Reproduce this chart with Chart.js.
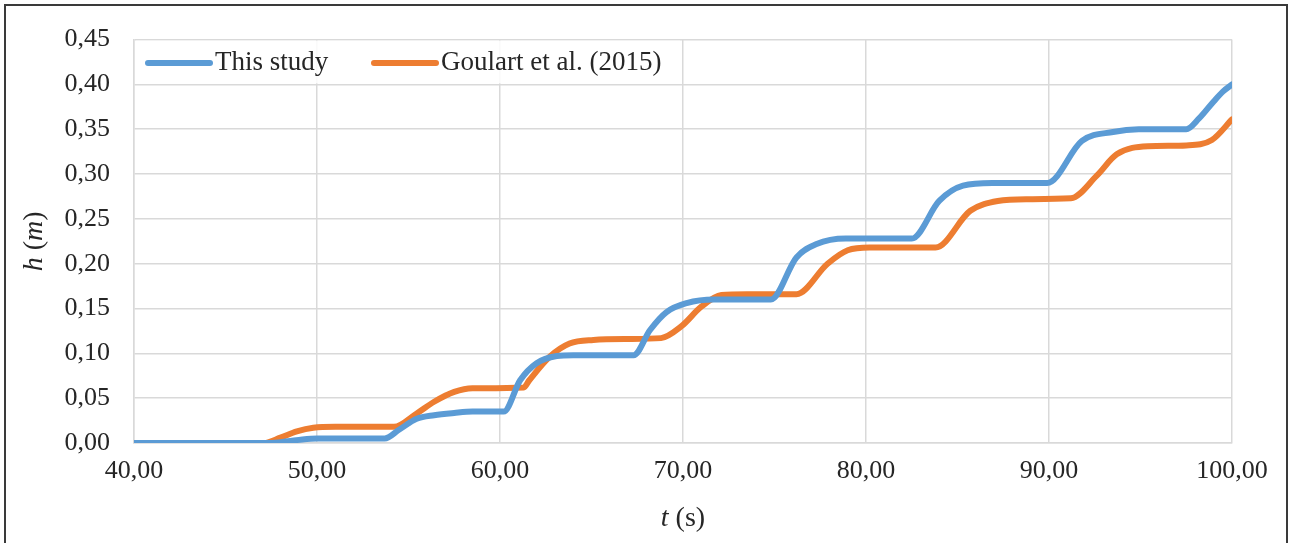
<!DOCTYPE html>
<html>
<head>
<meta charset="utf-8">
<script src="https://cdn.jsdelivr.net/npm/chart.js@4"></script>
<style>
  html, body { margin: 0; padding: 0; background: #fff; }
  #wrap { width: 1290px; height: 543px; position: relative; }
</style>
</head>
<body>
<div id="wrap"><canvas id="chart"></canvas></div>
<script>
// series (t in s, h in m)
const seriesNames = ['This study', 'Goulart et al. (2015)'];
const studyT = [40, 47.4, 48.4, 49.2, 50, 53.7, 54.5, 55.45, 56.4, 57.5, 58.5, 60.2, 61.1, 62, 63.1, 64, 67.3, 68.2, 69.1, 70.2, 71.7, 73, 74.8, 76.2, 77.3, 78.9, 80, 82.5, 84, 85.3, 86.9, 88, 89.9, 91.8, 93.5, 94.9, 96, 97.5, 98.2, 99, 99.5, 100];
const studyH = [0, 0, 0.002, 0.004, 0.005, 0.005, 0.015, 0.027, 0.031, 0.0335, 0.035, 0.035, 0.07, 0.089, 0.097, 0.098, 0.098, 0.126, 0.146, 0.156, 0.16, 0.16, 0.16, 0.207, 0.222, 0.228, 0.228, 0.228, 0.27, 0.287, 0.29, 0.29, 0.29, 0.337, 0.347, 0.35, 0.35, 0.35, 0.362, 0.381, 0.392, 0.4];
const goulartT = [40, 47.1, 48, 48.9, 49.8, 51, 54.2, 55.45, 56.4, 57.5, 58.5, 61.3, 61.6, 62.7, 63.8, 65.1, 67, 68.8, 69.9, 71, 72.1, 73.5, 76.2, 77.9, 79, 80.2, 82, 83.8, 85.7, 87.2, 88.8, 91.2, 92.6, 93.7, 95.4, 97.5, 98.9, 100];
const goulartH = [0, 0, 0.006, 0.013, 0.017, 0.018, 0.018, 0.033, 0.046, 0.057, 0.061, 0.062, 0.07, 0.096, 0.111, 0.115, 0.116, 0.117, 0.13, 0.152, 0.165, 0.166, 0.166, 0.2, 0.215, 0.218, 0.218, 0.218, 0.259, 0.27, 0.272, 0.273, 0.298, 0.322, 0.331, 0.332, 0.338, 0.361];
const xTicks = [40, 50, 60, 70, 80, 90, 100];
const yTicks = [0, 0.05, 0.1, 0.15, 0.2, 0.25, 0.3, 0.35, 0.4, 0.45];

const colors = ['#5b9bd5', '#ed7d31'];
const serif = '"Liberation Serif", "Times New Roman", serif';
const comma = v => v.toFixed(2).replace('.', ',');

function toPoints(ts, hs) {
  return ts.map((t, i) => ({ x: t, y: hs[i] }));
}

// page frame, legend box and axis titles
const extras = {
  id: 'extras',
  beforeDraw(chart) {
    const c = chart.ctx;
    c.save();
    c.fillStyle = '#fff';
    c.fillRect(0, 0, chart.width, chart.height);
    c.restore();
  },
  beforeDatasetsDraw(chart) {
    const c = chart.ctx;
    const a = chart.chartArea;
    const y40 = chart.scales.y.getPixelForValue(0.4);
    c.save();
    c.fillStyle = 'rgba(255,255,255,0.85)';
    c.fillRect(a.left + 2, a.top + 1, 544, y40 - a.top - 2);
    c.restore();
  },
  afterDraw(chart) {
    const c = chart.ctx;
    const a = chart.chartArea;
    c.save();
    // outer frame
    c.strokeStyle = '#3a3a3a';
    c.lineWidth = 2;
    c.strokeRect(5, 5, 1282, 560);

    // legend
    const ly = (a.top + chart.scales.y.getPixelForValue(0.4)) / 2 + 1;
    const items = [{ x: 148, label: seriesNames[0] }, { x: 374, label: seriesNames[1] }];
    c.font = '27px ' + serif;
    c.textBaseline = 'middle';
    items.forEach((it, i) => {
      c.strokeStyle = colors[i];
      c.lineWidth = 6;
      c.lineCap = 'round';
      c.beginPath();
      c.moveTo(it.x, ly);
      c.lineTo(it.x + 62, ly);
      c.stroke();
      c.fillStyle = '#262626';
      c.textAlign = 'left';
      c.fillText(it.label, it.x + 67, ly);
    });

    // x title: italic t, upright (s)
    c.fillStyle = '#262626';
    c.textBaseline = 'middle';
    const xc = (a.left + a.right) / 2;
    c.font = 'italic 28px ' + serif;
    const tW = c.measureText('t ').width;
    c.font = '28px ' + serif;
    const sW = c.measureText('(s)').width;
    let x0 = xc - (tW + sW) / 2;
    c.font = 'italic 28px ' + serif;
    c.textAlign = 'left';
    c.fillText('t ', x0, 519);
    c.font = '28px ' + serif;
    c.fillText('(s)', x0 + tW, 519);

    // y title: h (m) rotated
    c.translate(35, (a.top + a.bottom) / 2);
    c.rotate(-Math.PI / 2);
    const parts = [['h ', true], ['(', false], ['m', true], [')', false]];
    let total = 0;
    parts.forEach(p => {
      c.font = (p[1] ? 'italic ' : '') + '28px ' + serif;
      total += c.measureText(p[0]).width;
    });
    let px = -total / 2;
    parts.forEach(p => {
      c.font = (p[1] ? 'italic ' : '') + '28px ' + serif;
      c.fillText(p[0], px, 0);
      px += c.measureText(p[0]).width;
    });
    c.restore();
  }
};

new Chart(document.getElementById('chart'), {
  type: 'line',
  data: {
    datasets: [
      {
        label: seriesNames[0],
        data: toPoints(studyT, studyH),
        borderColor: colors[0],
        borderWidth: 6,
        pointRadius: 0,
        cubicInterpolationMode: 'monotone',
        borderCapStyle: 'round',
        borderJoinStyle: 'round'
      },
      {
        label: seriesNames[1],
        data: toPoints(goulartT, goulartH),
        borderColor: colors[1],
        borderWidth: 6,
        pointRadius: 0,
        cubicInterpolationMode: 'monotone',
        borderCapStyle: 'round',
        borderJoinStyle: 'round'
      }
    ]
  },
  options: {
    responsive: true,
    maintainAspectRatio: false,
    animation: false,
    layout: { padding: { left: 0, right: 58, top: 38, bottom: 0 } },
    plugins: {
      legend: { display: false },
      tooltip: { enabled: false }
    },
    scales: {
      x: {
        type: 'linear',
        min: 40,
        max: 100,
        afterBuildTicks: s => { s.ticks = xTicks.map(v => ({ value: v })); },
        afterFit: s => { s.height = 100; },
        grid: { color: '#d9d9d9', lineWidth: 1.5, drawTicks: false },
        border: { display: true, color: '#d9d9d9', width: 1.5 },
        ticks: {
          padding: 13,
          color: '#262626',
          font: { family: serif, size: 26 },
          maxRotation: 0,
          callback: v => comma(v)
        }
      },
      y: {
        min: 0,
        max: 0.45,
        afterBuildTicks: s => { s.ticks = yTicks.map(v => ({ value: v })); },
        afterFit: s => { s.width = 134; },
        grid: { color: '#d9d9d9', lineWidth: 1.5, drawTicks: false },
        border: { display: true, color: '#d9d9d9', width: 1.5 },
        ticks: {
          padding: 24,
          color: '#262626',
          font: { family: serif, size: 26 },
          callback: v => comma(v)
        }
      }
    }
  },
  plugins: [extras]
});
</script>
</body>
</html>
